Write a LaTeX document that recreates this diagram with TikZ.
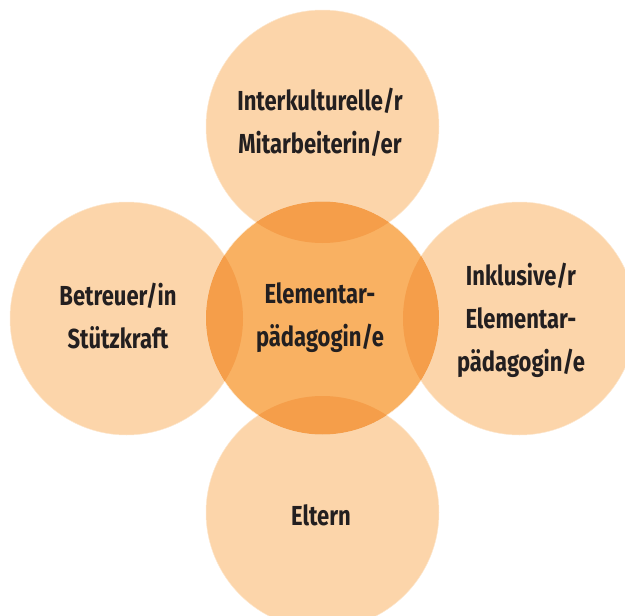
\documentclass[tikz,border=0pt]{standalone}
\usepackage{fontspec}
\usepackage{xcolor}
\newfontfamily\rolefont{Fira Sans}[FakeStretch=0.8]
\definecolor{ringlight}{HTML}{FCD5AA}
\definecolor{ringmid}{HTML}{F9B162}
\definecolor{ringdark}{HTML}{F59E4A}
\definecolor{roletext}{HTML}{231F20}
\tikzset{
  all/.style  = {align=center},
  ring/.style = {circle, inner sep=0pt, minimum size=233pt, draw=white!45!ringlight, line width=0.5pt},
  outer/.style = {ring, fill=ringlight},
  middle/.style = {ring, fill=ringmid},
  role/.style = {all, font=\rolefont\bfseries\fontsize{27.5}{43}\selectfont, text=roletext, inner sep=0pt}
}
\begin{document}
\begin{tikzpicture}[x=1pt,y=-1pt]
\useasboundingbox (0,0) rectangle (625,616);
% outer circles
\node[outer] (top) at (322.5,126.5) {};
\node[outer] (left) at (126.5,318.5) {};
\node[outer] (right) at (519.5,318.5) {};
\node[outer] (bottom) at (322.5,512.5) {};
% the circle in the middle and where it overlaps
\node[middle] (mid) at (322.5,318) {};
\foreach \n in {top,left,right,bottom}{
  \begin{scope}
    \clip (\n.center) circle (116.5);
    \fill[ringdark] (mid.center) circle (116.5);
  \end{scope}
}
% labels
\node[role] (topText) at (320,122) {Interkulturelle/r\\Mitarbeiterin/er};
\node[role] (midText) at (320,318) {Elementar-\\pädagogin/e};
\node[role] (leftText) at (118,316) {Betreuer/in\\Stützkraft};
\node[role] (rightText) at (521,320) {Inklusive/r\\Elementar-\\pädagogin/e};
\node[role] (bottomText) at (321,515) {Eltern};
\end{tikzpicture}
\end{document}
